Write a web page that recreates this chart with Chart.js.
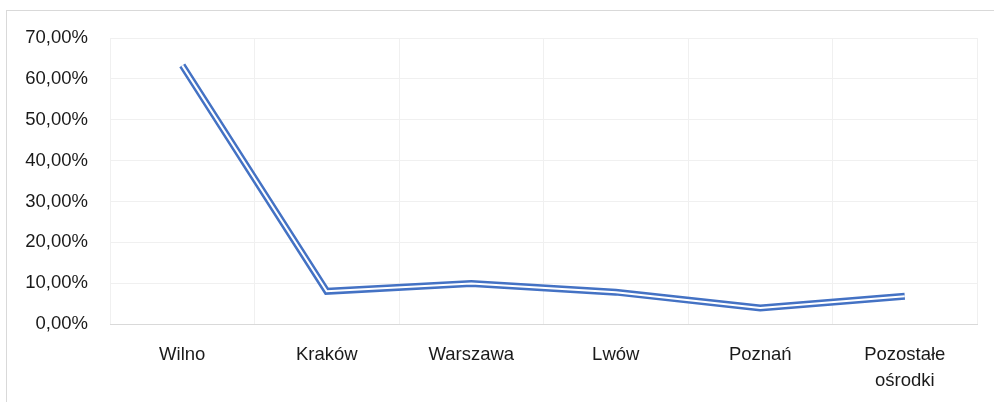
<!DOCTYPE html>
<html>
<head>
<meta charset="utf-8">
<script src="https://cdn.jsdelivr.net/npm/chart.js@4"></script>
<style>
  body { margin: 0; background: #fff; }
  #wrap { position: relative; width: 994px; height: 402px; overflow: hidden; }
  #frame { position: absolute; left: 6px; top: 10px; width: 994px; height: 420px; border: 1px solid #d9d9d9; box-sizing: border-box; }
  #share-chart { position: absolute; left: 0; top: 0; }
</style>
</head>
<body>
<div id="wrap">
  <div id="frame"></div>
  <canvas id="share-chart" width="994" height="402"></canvas>
</div>
<script>
const categories = ['Wilno', 'Kraków', 'Warszawa', 'Lwów', 'Poznań', ['Pozostałe', 'ośrodki']];
const shares = [63.3, 8.0, 9.9, 7.8, 3.9, 6.8];
const yTicks = [0, 10, 20, 30, 40, 50, 60, 70];

const lineBlue = '#4472C4';
const gridGrey = '#f0f0f0';
const font = { family: 'Liberation Sans, Arial, sans-serif', size: 18.5, lineHeight: 1.45 };

// Excel-style double line: wide blue stroke with a thin white stroke on top
let shareChart = new Chart(document.getElementById('share-chart'), {
  type: 'line',
  data: {
    labels: categories,
    datasets: [{
      data: shares,
      borderColor: lineBlue,
      borderWidth: 7,
      pointRadius: 0,
      tension: 0,
      order: 1
    }, {
      data: shares,
      borderColor: '#ffffff',
      borderWidth: 2,
      pointRadius: 0,
      tension: 0,
      order: 0
    }]
  },
  options: {
    responsive: false,
    animation: { duration: 0 },
    layout: { padding: { left: 0, right: 17, top: 38, bottom: 0 } },
    scales: {
      x: {
        offset: true,
        afterFit: (axis) => { axis.height = 78; },
        grid: { color: gridGrey, offset: true, drawTicks: false },
        border: { color: '#d9d9d9', width: 1 },
        ticks: { color: '#1a1a1a', font: font, padding: 17, maxRotation: 0 }
      },
      y: {
        min: 0,
        max: 70,
        afterBuildTicks: (axis) => { axis.ticks = yTicks.map(v => ({ value: v })); },
        afterFit: (axis) => { axis.width = 110; },
        grid: { color: gridGrey, drawTicks: false },
        border: { display: false },
        ticks: {
          color: '#1a1a1a',
          font: { family: font.family, size: font.size },
          padding: 22,
          callback: (v) => v.toFixed(2).replace('.', ',') + '%'
        }
      }
    },
    plugins: {
      legend: { display: false },
      tooltip: { enabled: false }
    }
  }
});
</script>
</body>
</html>
